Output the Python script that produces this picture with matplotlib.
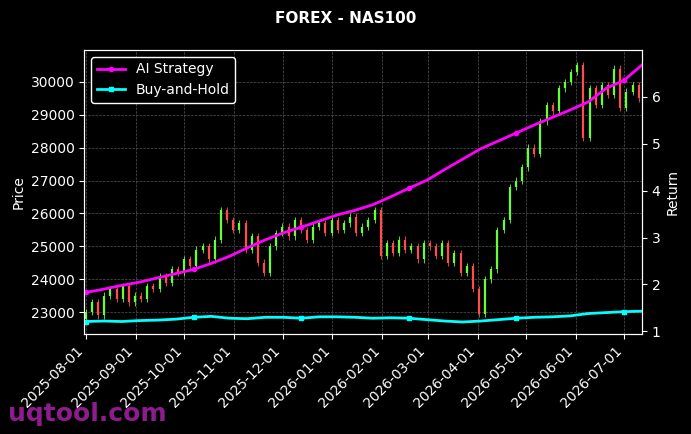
import numpy as np
import pandas as pd
import matplotlib
matplotlib.use('Agg')
import matplotlib.pyplot as plt
import matplotlib.dates as mdates

# --- price closes (roughly every 4 days) ---
closes = [
    23000, 23300, 22900, 23500, 23700, 23400, 23800, 23300,
    23500, 23400, 23800, 23700, 24100, 23900, 24300, 24200,
    24600, 24400, 24900, 25000, 24600, 25200, 26100, 25800,
    25500, 25700, 24900, 25300, 24500, 24200, 25000, 25400,
    25600, 25300, 25800, 25500, 25200, 25600, 25700, 25400,
    25800, 25500, 25700, 25900, 25400, 25600, 25800, 26100,
    24700, 25100, 24800, 25200, 24900, 25000, 24600, 25100,
    25000, 24700, 25100, 24500, 24800, 24200, 24400, 23700,
    22950, 24000, 24300, 25500, 25800, 26800, 27000, 27400,
    28000, 27800, 28800, 29300, 29100, 29800, 30000, 30300,
    30500, 28300, 29800, 29300, 29900, 29600, 30400, 29200,
    29700, 29900, 29500,
]
first_open = 22800

ai_return = [1.83, 1.90, 1.98, 2.05, 2.14, 2.23, 2.32, 2.45, 2.60, 2.78, 2.95,
             3.10, 3.22, 3.35, 3.48, 3.58, 3.70, 3.87, 4.05, 4.22, 4.45, 4.67,
             4.89, 5.06, 5.23, 5.40, 5.56, 5.72, 5.89, 6.18, 6.35, 6.68]
bh_return = [1.21, 1.22, 1.21, 1.23, 1.24, 1.26, 1.30, 1.32, 1.28, 1.27, 1.30,
             1.30, 1.28, 1.31, 1.31, 1.30, 1.28, 1.29, 1.28, 1.25, 1.22, 1.20,
             1.22, 1.25, 1.28, 1.30, 1.31, 1.33, 1.38, 1.40, 1.42, 1.43]

price_dates = pd.date_range('2025-08-01', '2026-07-10', periods=len(closes))
ret_dates = pd.date_range('2025-08-01', '2026-07-12', periods=len(ai_return))
tick_dates = pd.date_range('2025-08-01', '2026-07-01', freq='MS')

opens = [first_open] + closes[:-1]

plt.style.use('dark_background')
fig = plt.figure(figsize=(6.91, 4.34), dpi=100, facecolor='black')
ax = fig.add_axes([0.122, 0.230, 0.807, 0.655])
ax.set_facecolor('black')

for d, o, c in zip(price_dates, opens, closes):
    col = '#66ff33' if c >= o else '#ff4d4d'
    lo, hi = min(o, c), max(o, c)
    ax.vlines(d, lo - 100, hi + 100, color=col, linewidth=0.6)
    ax.vlines(d, lo, hi, color=col, linewidth=1.6)

ax.set_ylim(22330, 30970)
ax.set_xlim(pd.Timestamp('2025-07-31'), pd.Timestamp('2026-07-12'))
ax.set_ylabel('Price', color='white')
ax.grid(True, linestyle='--', linewidth=0.5, color='#555555')
ax.set_xticks(tick_dates)
ax.xaxis.set_major_formatter(mdates.DateFormatter('%Y-%m-%d'))
plt.setp(ax.get_xticklabels(), rotation=45, ha='right')

ax2 = ax.twinx()
ax2.plot(ret_dates, ai_return, color='#ff00ff', linewidth=2, marker='o', markersize=3,
         markevery=6, label='AI Strategy')
ax2.plot(ret_dates, bh_return, color='#00ffff', linewidth=2, marker='s', markersize=3,
         markevery=6, label='Buy-and-Hold')
ax2.set_ylim(0.94, 7.0)
ax2.set_yticks([1, 2, 3, 4, 5, 6])
ax2.set_ylabel('Return', color='white')
ax2.legend(loc='upper left', facecolor='black', edgecolor='white', framealpha=1)

for a in (ax, ax2):
    for s in a.spines.values():
        s.set_color('white')

fig.suptitle('FOREX - NAS100', color='white', fontweight='bold', fontsize=11, y=0.975)
fig.text(0.012, 0.03, 'uqtool.com', color='#a020a0', fontsize=18, fontweight='bold', alpha=0.9)

fig.savefig('out.png', dpi=100, facecolor='black')
